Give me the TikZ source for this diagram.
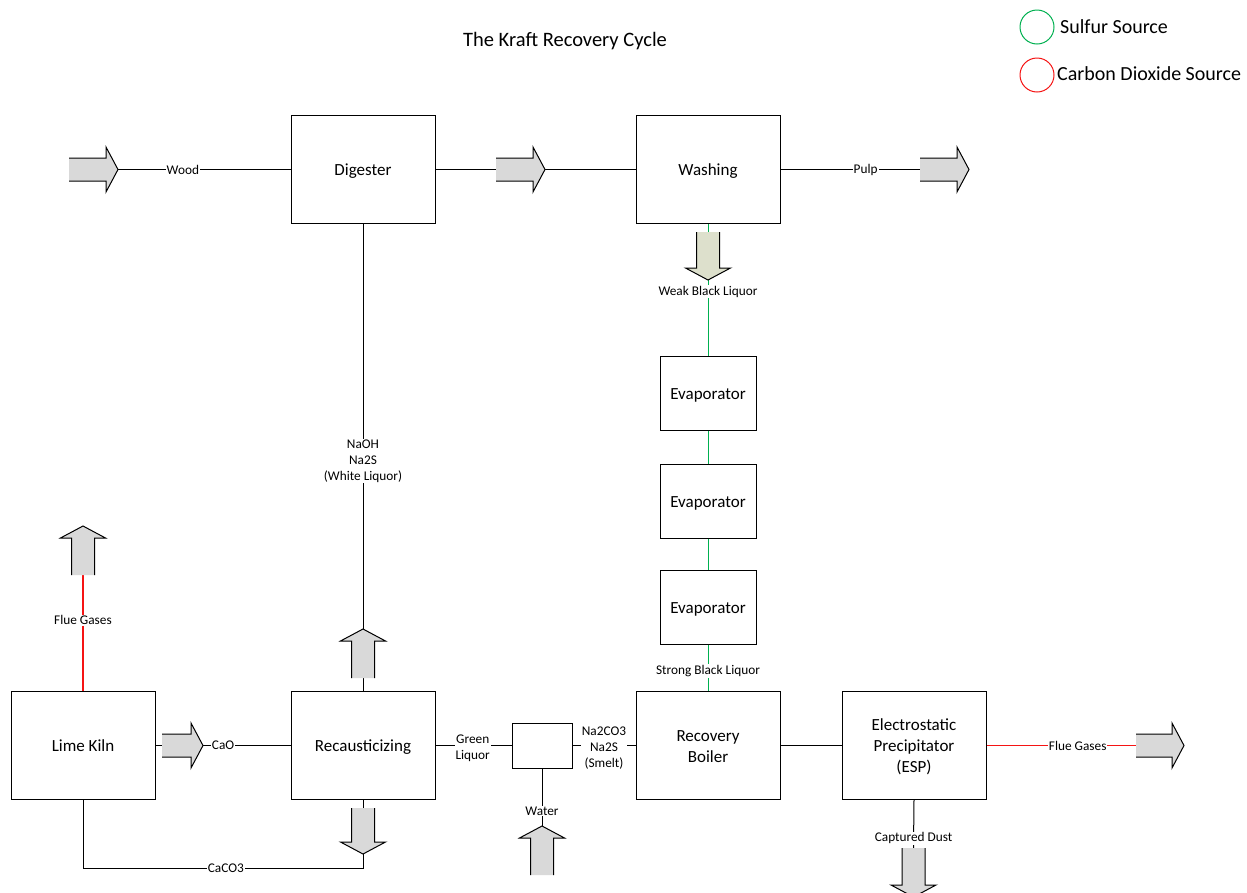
\documentclass[tikz,border=0pt]{standalone}
\usepackage{fontspec}
\setmainfont{Carlito}
\definecolor{agrey}{RGB}{217,217,217}
\definecolor{aolive}{RGB}{221,224,204}
\definecolor{sgreen}{RGB}{0,176,80}
\definecolor{cored}{RGB}{245,20,20}
\newcommand{\bxt}[1]{\raisebox{-2pt}[\height][\depth]{\begin{tabular}{@{}c@{}}#1\end{tabular}}}
\begin{document}
\begin{tikzpicture}[x=1pt,y=-1pt,
  alen/.initial=49,
  afill/.initial=agrey,
  barrow/.pic={
    \pgfmathsetmacro\aL{\pgfkeysvalueof{/tikz/alen}}
    \pgfmathsetmacro\aH{\aL-12}
    \fill[fill=\pgfkeysvalueof{/tikz/afill}] (0,-11.5) -- (\aH,-11.5) -- (\aH,-22.5) -- (\aL,0) -- (\aH,22.5) -- (\aH,11.5) -- (0,11.5) -- cycle;
    \draw[line width=1pt, line join=miter] (0,-11.5) -- (\aH,-11.5) -- (\aH,-22.5) -- (\aL,0) -- (\aH,22.5) -- (\aH,11.5) -- (0,11.5);
  },
  box/.style={draw, line width=1pt, minimum width=144pt, minimum height=108pt, inner sep=0pt, align=center, font=\fontsize{17}{21}\selectfont},
  ebox/.style={box, minimum width=96pt, minimum height=74pt},
  sbox/.style={draw, line width=1pt, minimum width=60pt, minimum height=45pt, inner sep=0pt},
  lbl/.style={fill=white, inner sep=1pt, align=center, text=black, font=\fontsize{13.3}{16}\selectfont},
  conn/.style={line width=1pt},
  gconn/.style={line width=1pt, draw=sgreen},
  rconn/.style={line width=1.4pt, draw=cored},
  legend/.style={anchor=west, inner sep=0pt, font=\fontsize{20}{24}\selectfont},
  titlestyle/.style={inner sep=0pt, font=\fontsize{20.5}{24}\selectfont}
]
\useasboundingbox (0,0) rectangle (1247,892);

% title and legend
\node[titlestyle] (ttl) at (565,41) {The Kraft Recovery Cycle};
\node[circle, draw=sgreen, line width=1pt, minimum size=34pt, inner sep=0pt] (lg1) at (1037,27) {};
\node[legend] (lt1) at (1060,27) {Sulfur Source};
\node[circle, draw=cored, line width=1pt, minimum size=34pt, inner sep=0pt] (lg2) at (1037,75) {};
\node[legend] (lt2) at (1057,74) {Carbon Dioxide Source};

% boxes
\node[box] (dig) at (363,169.5) {\bxt{Digester}};
\node[box] (wash) at (708,169.5) {\bxt{Washing}};
\node[ebox] (e1) at (708,393) {\bxt{Evaporator}};
\node[ebox] (e2) at (708,501) {\bxt{Evaporator}};
\node[ebox] (e3) at (708,607) {\bxt{Evaporator}};
\node[box] (kiln) at (83,745.5) {\bxt{Lime Kiln}};
\node[box] (rec) at (363,745.5) {\bxt{Recausticizing}};
\node[sbox] (mix) at (542,745.5) {};
\node[box] (rb) at (708,745.5) {\bxt{Recovery\\Boiler}};
\node[box] (esp) at (914,745.5) {\bxt{Electrostatic\\Precipitator\\(ESP)}};

% arrow end points
\coordinate (woodT) at (69,169.5);  \coordinate (woodH) at (118,169.5);
\coordinate (midT) at (496,169.5);  \coordinate (midH) at (545,169.5);
\coordinate (pulpT) at (920,169.5); \coordinate (pulpH) at (969,169.5);
\coordinate (weakT) at (708,232);   \coordinate (weakH) at (708,280);
\coordinate (whiteT) at (363,678);  \coordinate (whiteH) at (363,629);
\coordinate (flueT) at (83,575);    \coordinate (flueH) at (83,526);
\coordinate (caoT) at (162,745.5);  \coordinate (caoH) at (203,745.5);
\coordinate (downT) at (363,808);   \coordinate (downH) at (363,854);
\coordinate (waterT) at (542,875);  \coordinate (waterH) at (542,826);
\coordinate (esfT) at (1136,745.5); \coordinate (esfH) at (1184,745.5);
\coordinate (dustT) at (913.5,848); \coordinate (dustH) at (913.5,897);
\coordinate (cc) at (83,868);

% connectors
\draw[conn] (woodH) -- node[lbl,pos=0.376]{Wood} (dig.west);
\draw[conn] (dig.east) -- (midT);
\draw[conn] (midH) -- (wash.west);
\draw[conn] (wash.east) -- node[lbl,pos=0.61]{Pulp} (pulpT);
\draw[gconn] (wash.south) -- (weakT);
\draw[gconn] (weakH) -- node[lbl,pos=0.156]{Weak Black Liquor} (e1.north);
\draw[gconn] (e1.south) -- (e2.north);
\draw[gconn] (e2.south) -- (e3.north);
\draw[gconn] (e3.south) -- node[lbl,pos=0.57]{Strong Black Liquor} (rb.north);
\draw[conn] (dig.south) -- node[lbl,pos=0.585]{NaOH\\Na2S\\(White Liquor)} (whiteH);
\draw[conn] (whiteT) -- (rec.north);
\draw[rconn] (kiln.north) -- node[lbl,pos=0.61]{Flue Gases} (flueT);
\draw[conn] (kiln.east) -- (caoT);
\draw[conn] (caoH) -- node[lbl,pos=0.23]{CaO} (rec.west);
\draw[conn] (rec.south) -- (downT);
\draw[conn] (downH) |- node[lbl,pos=0.745]{CaCO3} (cc) -- (kiln.south);
\draw[conn] (rec.east) -- node[lbl,pos=0.49,yshift=-3pt]{Green\\Liquor} (mix.west);
\draw[conn] (rb.west) -- node[lbl,pos=0.5,yshift=-3pt]{Na2CO3\\Na2S\\(Smelt)} (mix.east);
\draw[conn] (mix.south) -- node[lbl,pos=0.74]{Water} (waterH);
\draw[conn] (rb.east) -- (esp.west);
\draw[rconn] (esp.east) -- node[lbl,pos=0.61]{Flue Gases} (esfT);
\draw[conn] (esp.south) -- node[lbl,pos=0.8]{Captured Dust} (dustT);

% block arrows
\pic at (woodT) {barrow};
\pic at (midT) {barrow};
\pic at (pulpT) {barrow};
\pic[rotate=-90, alen=48, afill=aolive] at (weakT) {barrow};
\pic[rotate=90] at (whiteT) {barrow};
\pic[rotate=90] at (flueT) {barrow};
\pic[alen=41] at (caoT) {barrow};
\pic[rotate=-90, alen=46] at (downT) {barrow};
\pic[rotate=90] at (waterT) {barrow};
\pic[alen=48] at (esfT) {barrow};
\pic[rotate=-90] at (dustT) {barrow};
\end{tikzpicture}
\end{document}
